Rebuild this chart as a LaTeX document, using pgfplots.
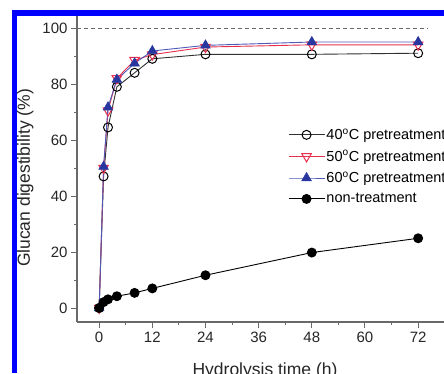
\documentclass[border=0pt]{standalone}
\usepackage{fontspec}
\setmainfont{Liberation Sans}
\usepackage{pgfplots}
\pgfplotsset{compat=1.18}
\definecolor{myblue}{RGB}{0,0,255}
\definecolor{c40}{RGB}{50,50,50}
\definecolor{c50}{RGB}{232,48,78}
\definecolor{c60}{RGB}{40,55,160}
\definecolor{c60l}{RGB}{80,90,185}
\definecolor{axisgray}{RGB}{105,105,105}
\pgfplotsset{
  every axis plot/.append style={
    legend image code/.code={\draw[mark repeat=2,mark phase=2,##1] plot coordinates {(0pt,0pt) (18pt,0pt) (36pt,0pt)};}
  }
}
\begin{document}
\begin{tikzpicture}[x=1pt,y=1pt]
\useasboundingbox (0,0) rectangle (444,373);
\fill[white] (0,0) rectangle (444,373);
\begin{scope}
\clip (0,0) rectangle (444,373);
\begin{axis}[
  at={(77pt,51pt)}, anchor=south west,
  scale only axis, width=376.6pt, height=308pt,
  xmin=-5, xmax=80, ymin=-5, ymax=105,
  axis x line*=bottom, axis y line*=left,
  axis line style={axisgray, line width=1.2pt},
  xtick={0,12,...,72}, minor xtick={6,18,...,78},
  ytick={0,20,...,100}, minor ytick={10,30,...,90},
  tick align=outside, major tick length=6pt, minor tick length=3pt,
  every tick/.style={axisgray, line width=1pt},
  ticklabel style={font=\fontsize{15}{18}\selectfont, text=black!85},
  /pgf/number format/assume math mode=true,
  legend style={draw=none, fill=none, at={(0.56,0.633)}, anchor=north west,
    inner sep=0pt, font=\fontsize{14.5}{17}\selectfont, row sep=6.4pt,
    nodes={inner sep=1.5pt}},
  legend cell align=left,
]
\addplot[forget plot, axisgray, line width=0.9pt, dash pattern=on 4pt off 3pt] coordinates {(-5,100) (74.3,100)};
\addplot[c40, line width=0.9pt, mark=o, mark size=4.5pt, mark options={fill=white, draw=black, line width=1pt}] coordinates {
(0,0) (1,47) (2,64.5) (4,79) (8,84) (12,89) (24,90.6) (48,90.6) (72,91)};
\addlegendentry{40\textsuperscript{o}C pretreatment}
\addplot[c50, line width=0.9pt, mark=triangle, mark size=5.5pt, mark options={rotate=180, fill=white, draw=c50, line width=1pt}] coordinates {
(0,0) (1,50) (2,70.5) (4,82) (8,88.5) (12,90.5) (24,93.2) (48,94) (72,94)};
\addlegendentry{50\textsuperscript{o}C pretreatment}
\addplot[c60l, line width=0.9pt, mark=triangle*, mark size=5.5pt, mark options={fill=c60, draw=c60, line width=0.6pt}] coordinates {
(0,0) (1,50.5) (2,71.7) (4,81.6) (8,87.4) (12,91.8) (24,93.8) (48,95) (72,95)};
\addlegendentry{60\textsuperscript{o}C pretreatment}
\addplot[black, line width=0.9pt, mark=*, mark size=4.5pt, mark options={fill=black}] coordinates {
(0,0) (1,2.1) (2,3.1) (4,4.2) (8,5.4) (12,7) (24,11.7) (48,19.8) (72,24.9)};
\addlegendentry{non-treatment}
\end{axis}
\node[font=\fontsize{17.5}{20}\selectfont, anchor=north, inner sep=0pt, text=black!85] at (265,10) {Hydrolysis time (h)};
\node[font=\fontsize{17.5}{20}\selectfont, anchor=north, rotate=90, inner sep=0pt, text=black!85] at (17,195) {Glucan digestibility (\%)};
\fill[myblue] (12,0) rectangle (17,363);
\fill[myblue] (12,357) rectangle (444,363);
\end{scope}
\end{tikzpicture}
\end{document}
